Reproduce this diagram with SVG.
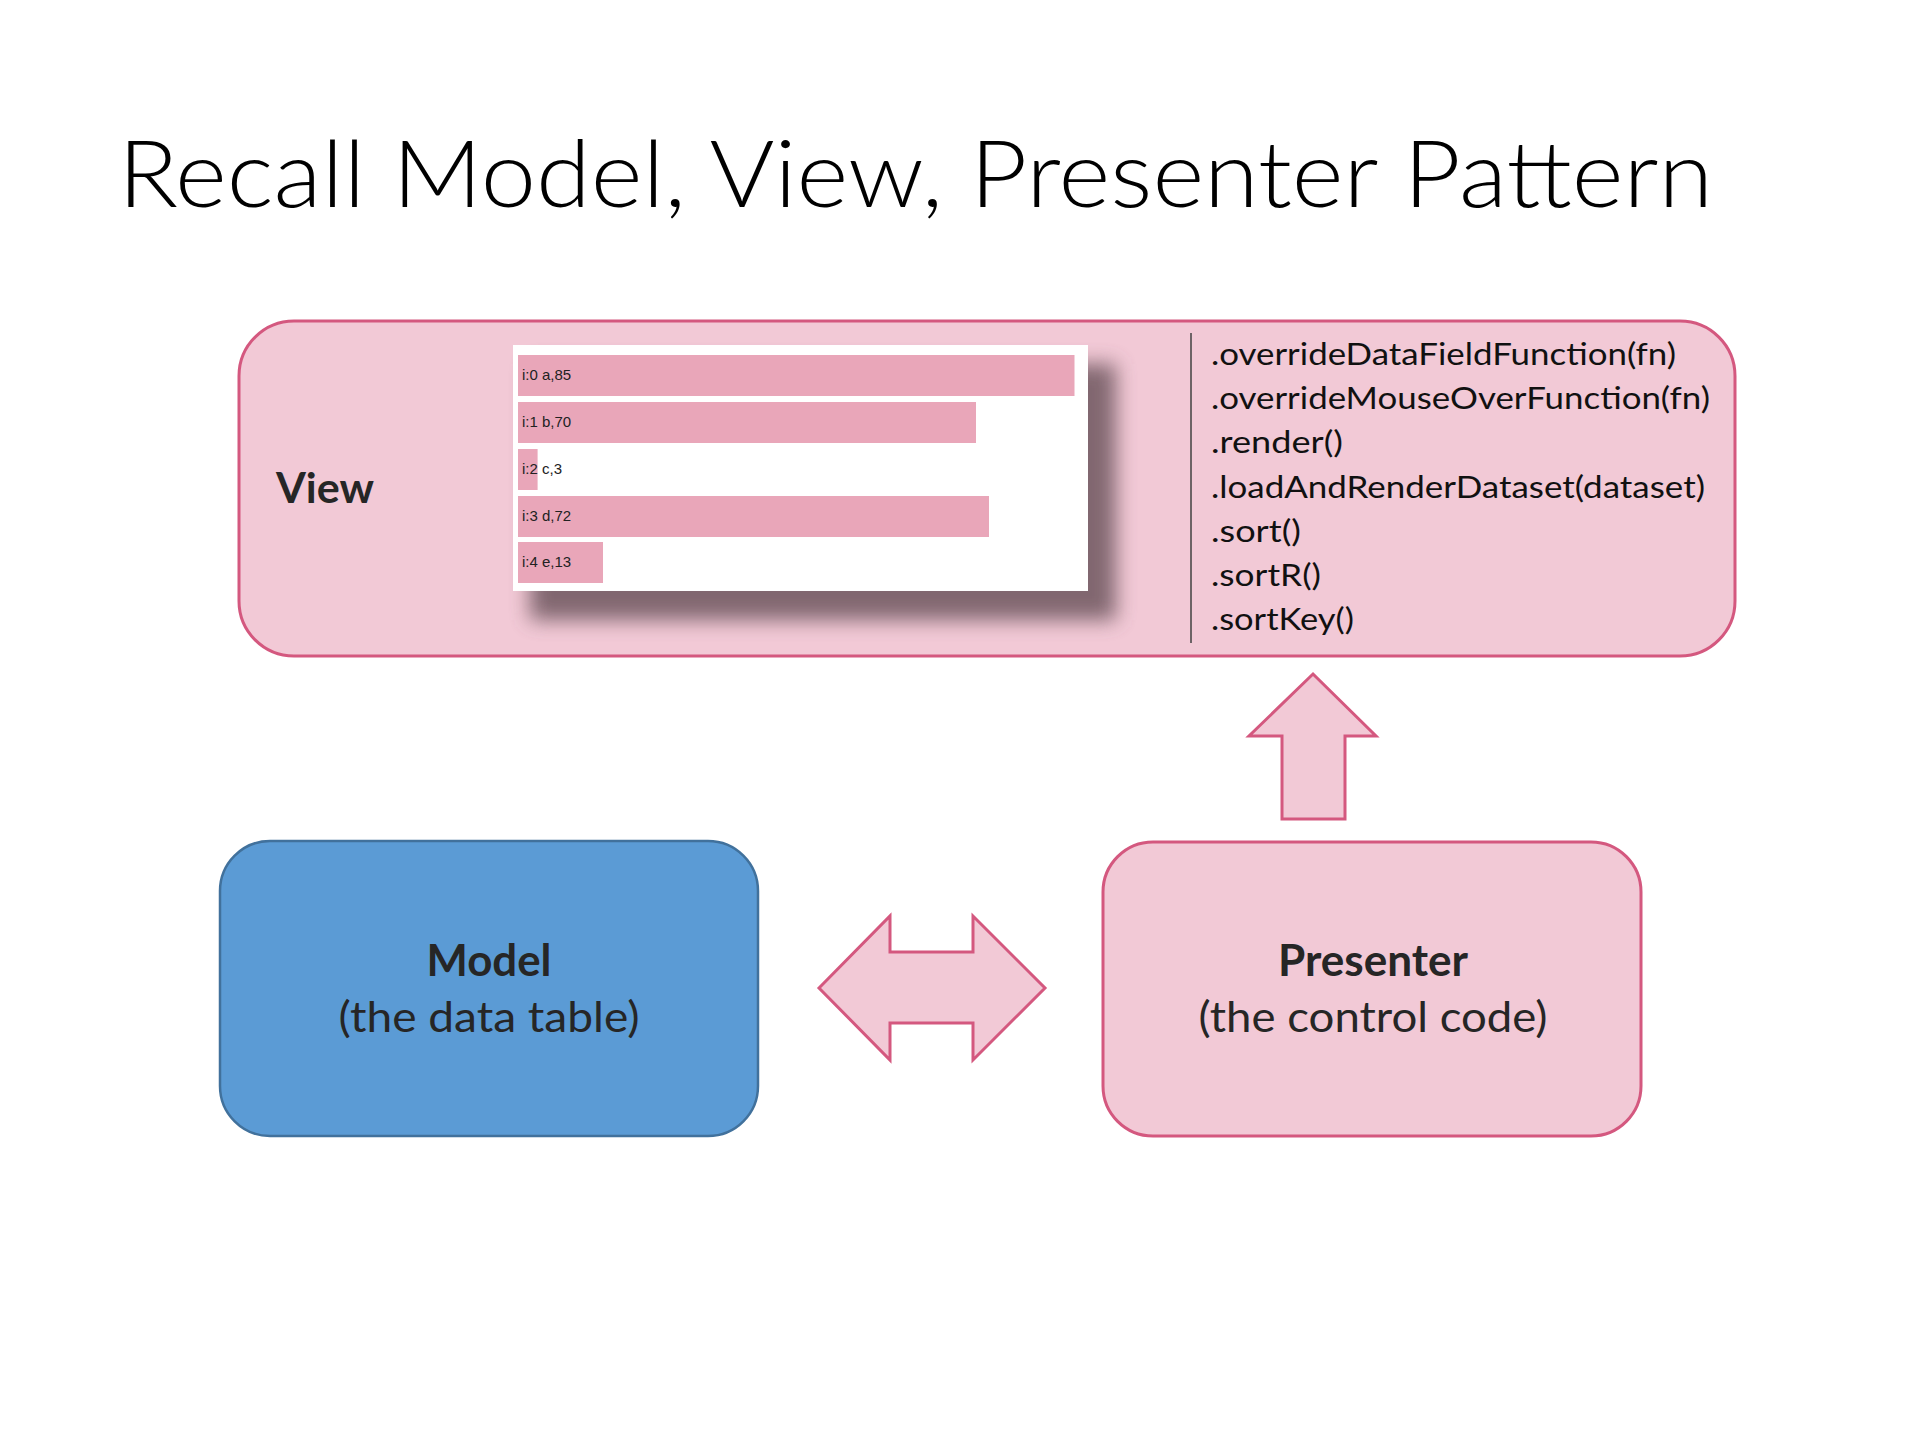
<svg xmlns="http://www.w3.org/2000/svg" width="1920" height="1440" viewBox="0 0 1920 1440">
  <style>
    .box { fill: #f2c9d6; stroke: #d4587f; stroke-width: 3; }
    .arrow { fill: #f2c9d6; stroke: #d4587f; stroke-width: 3; stroke-linejoin: miter; }
    .bar { fill: #e9a6b9; }
    .barlabel { font-family: "Liberation Sans", Arial, sans-serif; font-size: 15px; fill: #222; }
    .cal { font-family: Lato, "Open Sans", sans-serif; fill: #262626; }
    .bold { font-weight: 700; }
    .method { font-family: Lato, "Open Sans", sans-serif; font-size: 31px; fill: #111; }
  </style>
  <defs>
    <filter id="shadow" x="-10%" y="-20%" width="130%" height="150%">
      <feGaussianBlur stdDeviation="10"/>
    </filter>
  </defs>
  <rect x="0" y="0" width="1920" height="1440" fill="#ffffff"/>

  <text id="title" x="118" y="207" font-family="Lato, 'Open Sans', sans-serif" font-weight="300" font-size="93" fill="#000" textLength="1595" lengthAdjust="spacingAndGlyphs">Recall Model, View, Presenter Pattern</text>

  <g id="view">
    <rect class="box" x="239" y="321" width="1496" height="335" rx="55" ry="55"/>
    <text class="cal bold" x="276" y="503" font-size="42" textLength="98" lengthAdjust="spacingAndGlyphs">View</text>
    <g id="chart">
      <rect x="530" y="364" width="586" height="256" fill="#6e565e" opacity="0.85" filter="url(#shadow)"/>
      <rect x="513" y="345" width="575" height="246" fill="#ffffff"/>
      <rect class="bar" x="518" y="355" width="556.5" height="41"/>
      <rect class="bar" x="518" y="402" width="458" height="41"/>
      <rect class="bar" x="518" y="449" width="19.6" height="41"/>
      <rect class="bar" x="518" y="496" width="471" height="41"/>
      <rect class="bar" x="518" y="542" width="85" height="41"/>
      <text class="barlabel" x="522" y="380">i:0 a,85</text>
      <text class="barlabel" x="522" y="427">i:1 b,70</text>
      <text class="barlabel" x="522" y="474">i:2 c,3</text>
      <text class="barlabel" x="522" y="521">i:3 d,72</text>
      <text class="barlabel" x="522" y="567">i:4 e,13</text>
    </g>
    <line x1="1191" y1="333" x2="1191" y2="643" stroke="#404040" stroke-width="1.5"/>
    <text class="method" x="1211" y="365" textLength="465" lengthAdjust="spacingAndGlyphs">.overrideDataFieldFunction(fn)</text>
    <text class="method" x="1211" y="409" textLength="499" lengthAdjust="spacingAndGlyphs">.overrideMouseOverFunction(fn)</text>
    <text class="method" x="1211" y="453" textLength="132" lengthAdjust="spacingAndGlyphs">.render()</text>
    <text class="method" x="1211" y="498" textLength="494" lengthAdjust="spacingAndGlyphs">.loadAndRenderDataset(dataset)</text>
    <text class="method" x="1211" y="542" textLength="90" lengthAdjust="spacingAndGlyphs">.sort()</text>
    <text class="method" x="1211" y="586" textLength="110" lengthAdjust="spacingAndGlyphs">.sortR()</text>
    <text class="method" x="1211" y="630" textLength="143" lengthAdjust="spacingAndGlyphs">.sortKey()</text>
  </g>

  <g id="model">
    <rect x="220" y="841" width="538" height="295" rx="50" ry="50" fill="#5b9bd5" stroke="#41719c" stroke-width="2.5"/>
    <text class="cal bold" x="489" y="976" font-size="43" text-anchor="middle" textLength="125" lengthAdjust="spacingAndGlyphs">Model</text>
    <text class="cal" x="489" y="1032" font-size="43" text-anchor="middle" textLength="301" lengthAdjust="spacingAndGlyphs">(the data table)</text>
  </g>

  <g id="presenter">
    <rect class="box" x="1103" y="842" width="538" height="294" rx="50" ry="50"/>
    <text class="cal bold" x="1373" y="976" font-size="43" text-anchor="middle" textLength="190" lengthAdjust="spacingAndGlyphs">Presenter</text>
    <text class="cal" x="1373" y="1032" font-size="43" text-anchor="middle" textLength="349" lengthAdjust="spacingAndGlyphs">(the control code)</text>
  </g>

  <g id="connectors">
    <polygon class="arrow" points="1313,674 1376,736 1345,736 1345,819 1282,819 1282,736 1249,736"/>
    <polygon class="arrow" points="819,988 890,916 890,952 973,952 973,916 1045,988 973,1060 973,1023 890,1023 890,1060"/>
  </g>
</svg>
